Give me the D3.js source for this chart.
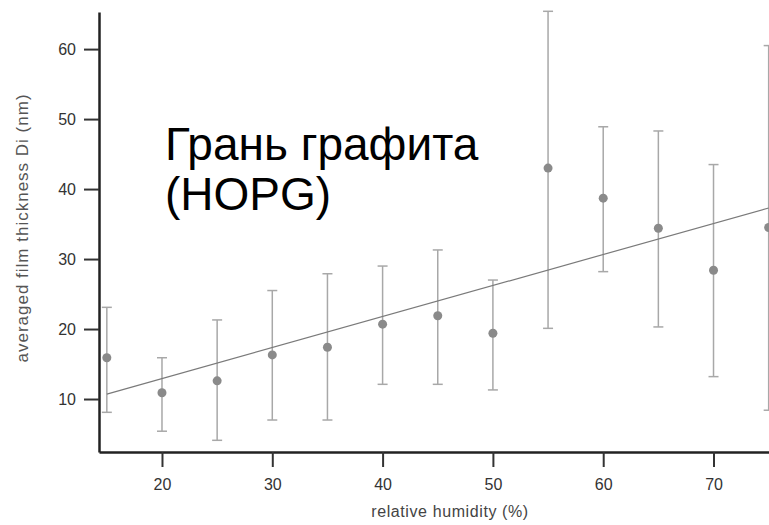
<!DOCTYPE html>
<html>
<head>
    <meta charset="utf-8">
    <title>Film thickness vs humidity</title>
    <script src="https://d3js.org/d3.v7.min.js"></script>
    <style>
        body { margin: 0; background: #fff; }
        text { font-family: "Liberation Sans", Arial, sans-serif; }
    </style>
</head>
<body>
<script>
// relative humidity (%)
var humidity = [15, 20, 25, 30, 35, 40, 45, 50, 55, 60, 65, 70, 75];
// averaged film thickness Di (nm), mean and error bar ends
var thickness = [15.9, 10.9, 12.6, 16.3, 17.4, 20.7, 21.9, 19.4, 43.0, 38.7, 34.4, 28.4, 34.5];
var errHigh   = [23.1, 15.9, 21.3, 25.5, 27.9, 29.0, 31.3, 27.0, 65.4, 48.9, 48.3, 43.5, 60.5];
var errLow    = [8.1, 5.4, 4.1, 7.0, 7.0, 12.1, 12.1, 11.3, 20.1, 28.2, 20.3, 13.2, 8.4];
// linear fit end points
var fitX = [15, 75];
var fitY = [10.7, 37.3];
var xTicks = [20, 30, 40, 50, 60, 70];
var yTicks = [10, 20, 30, 40, 50, 60];

var width = 769, height = 525;

var svg = d3.select("body").append("svg")
    .attr("width", width)
    .attr("height", height);

var x = d3.scaleLinear().domain([14.29, 75.03]).range([99, 769]);
var y = d3.scaleLinear().domain([2.43, 65.3]).range([452, 12]);

// error bars
var bars = svg.append("g").attr("stroke", "#a8a8a8").attr("stroke-width", 1.5);
humidity.forEach(function(h, i) {
    bars.append("line")
        .attr("x1", x(h)).attr("x2", x(h))
        .attr("y1", y(errLow[i])).attr("y2", y(errHigh[i]));
    [errLow[i], errHigh[i]].forEach(function(v) {
        bars.append("line")
            .attr("x1", x(h) - 5).attr("x2", x(h) + 5)
            .attr("y1", y(v)).attr("y2", y(v));
    });
});

// fit line
svg.append("line")
    .attr("x1", x(fitX[0])).attr("y1", y(fitY[0]))
    .attr("x2", x(fitX[1])).attr("y2", y(fitY[1]))
    .attr("stroke", "#7a7a7a")
    .attr("stroke-width", 1.2);

// points
svg.append("g").selectAll("circle")
    .data(humidity)
    .enter().append("circle")
    .attr("cx", function(d) { return x(d); })
    .attr("cy", function(d, i) { return y(thickness[i]); })
    .attr("r", 4.5)
    .attr("fill", "#8a8a8a");

// axes
var xAxis = svg.append("g")
    .attr("transform", "translate(0,452)")
    .call(d3.axisBottom(x).tickValues(xTicks).tickSize(15).tickSizeOuter(0).tickPadding(12));
var yAxis = svg.append("g")
    .attr("transform", "translate(99,0)")
    .call(d3.axisLeft(y).tickValues(yTicks).tickSize(15).tickSizeOuter(0).tickPadding(8));

[xAxis, yAxis].forEach(function(a) {
    a.select(".domain").attr("stroke", "#222").attr("stroke-width", 2.5);
    a.selectAll(".tick line").attr("stroke", "#333").attr("stroke-width", 2);
    a.selectAll(".tick text")
        .attr("fill", "#333")
        .style("font-size", "16px");
});

// axis titles
svg.append("text")
    .attr("x", 450).attr("y", 517)
    .attr("text-anchor", "middle")
    .attr("fill", "#444")
    .style("font-size", "16px")
    .style("letter-spacing", "0.6px")
    .text("relative humidity (%)");

svg.append("text")
    .attr("transform", "translate(28,228) rotate(-90)")
    .attr("text-anchor", "middle")
    .attr("fill", "#555")
    .style("font-size", "17px")
    .style("letter-spacing", "1px")
    .text("averaged film thickness Di (nm)");

// annotation
var note = svg.append("text")
    .attr("fill", "#000")
    .style("font-size", "46px");
note.append("tspan").attr("x", 165).attr("y", 160).text("Грань графита");
note.append("tspan").attr("x", 165).attr("y", 210).text("(HOPG)");
</script>
</body>
</html>
